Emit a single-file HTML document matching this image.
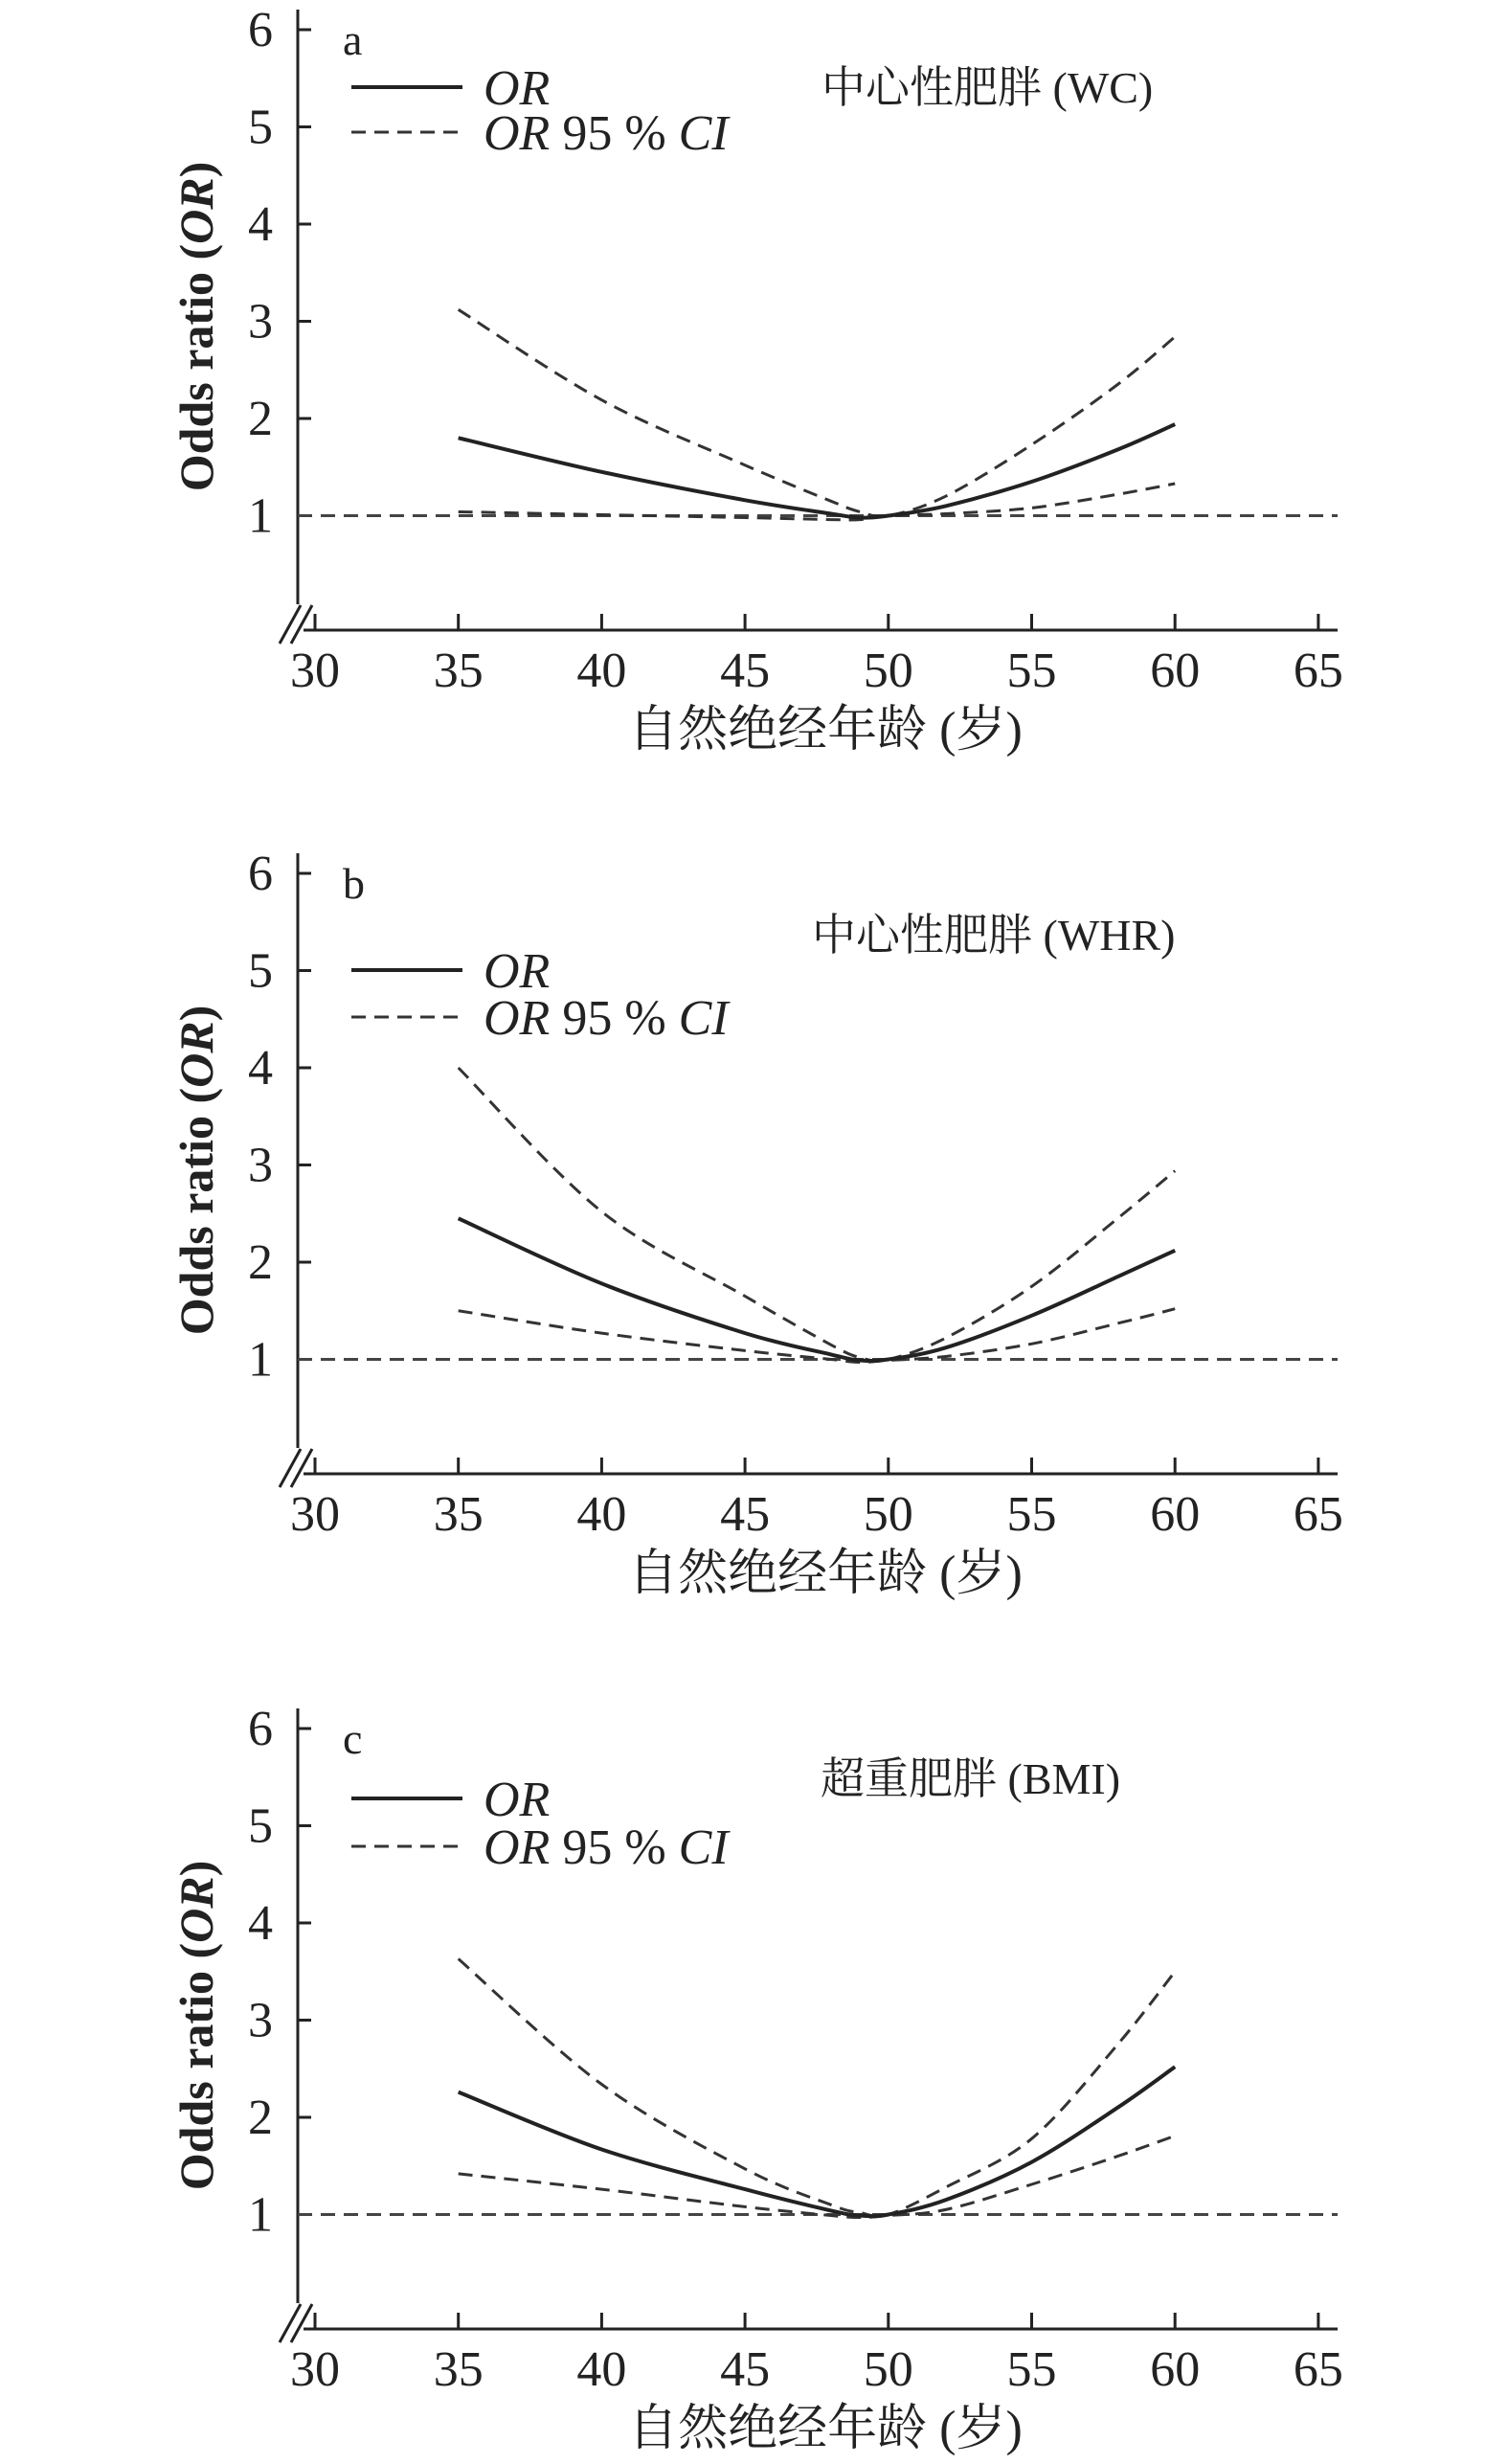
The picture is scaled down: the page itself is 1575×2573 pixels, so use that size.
<!DOCTYPE html>
<html><head><meta charset="utf-8"><style>
html,body{margin:0;padding:0;background:#fff;}
svg{display:block;}
text{font-family:"Liberation Serif","Noto Serif CJK SC","Noto Sans CJK SC",serif;fill:#222;}
</style></head><body>
<svg id="chart" xmlns="http://www.w3.org/2000/svg" width="1575" height="2573" viewBox="0 0 1575 2573"></svg>
<script>
const years = [35,40,45,48,49,50,52,55,58,60];
const xTicks = [30,35,40,45,50,55,60,65];
const yTicks = [1,2,3,4,5,6];
const orA = [1.80,1.45,1.16,1.02,0.98,1.00,1.10,1.35,1.68,1.94];
const upA = [3.12,2.19,1.52,1.15,1.04,1.00,1.20,1.73,2.35,2.84];
const loA = [1.04,1.01,0.98,0.96,0.96,1.00,1.02,1.08,1.22,1.33];
const orB = [2.45,1.78,1.27,1.05,0.99,1.00,1.12,1.45,1.85,2.12];
const upB = [4.00,2.52,1.65,1.15,1.02,1.00,1.22,1.75,2.45,2.94];
const loB = [1.50,1.27,1.09,1.00,0.97,0.99,1.03,1.16,1.37,1.52];
const orC = [2.26,1.67,1.26,1.04,0.99,1.00,1.15,1.54,2.10,2.52];
const upC = [3.63,2.34,1.47,1.10,1.02,1.00,1.28,1.78,2.75,3.50];
const loC = [1.42,1.26,1.08,0.99,0.97,0.99,1.05,1.31,1.60,1.81];
const refValue = 1;

const NS = "http://www.w3.org/2000/svg";
const svg = document.getElementById('chart');
function mk(tag, attrs, parent){
  const e = document.createElementNS(NS, tag);
  for (const k in attrs) e.setAttribute(k, attrs[k]);
  (parent||svg).appendChild(e);
  return e;
}
function spline(pts){
  let d = "M" + pts[0][0] + "," + pts[0][1];
  for (let i=0;i<pts.length-1;i++){
    const p0 = pts[Math.max(0,i-1)], p1 = pts[i], p2 = pts[i+1], p3 = pts[Math.min(pts.length-1,i+2)];
    const c1x = p1[0] + (p2[0]-p0[0])/6, c1y = p1[1] + (p2[1]-p0[1])/6;
    const c2x = p2[0] - (p3[0]-p1[0])/6, c2y = p2[1] - (p3[1]-p1[1])/6;
    d += " C" + c1x.toFixed(1) + "," + c1y.toFixed(1) + " " + c2x.toFixed(1) + "," + c2y.toFixed(1) + " " + p2[0].toFixed(1) + "," + p2[1].toFixed(1);
  }
  return d;
}

const panels = [
  {id:'a', T:31, title:'中心性肥胖 (WC)', tx:858, tOff:60, orOff:60, ciOff:107, or:orA, up:upA, lo:loA},
  {id:'b', T:912, title:'中心性肥胖 (WHR)', tx:848, tOff:64, orOff:101, ciOff:150, or:orB, up:upB, lo:loB},
  {id:'c', T:1805, title:'超重肥胖 (BMI)', tx:857, tOff:52, orOff:73, ciOff:123, or:orC, up:upC, lo:loC}
];

panels.forEach(p => {
  const T = p.T;
  const g = mk('g', {});
  
  
  const X = v => 329 + (v-30)*29.94;
  const Y = v => T + (6-v)*101.5;
  const axY = T + 627;

  const ya = mk('line', {x1:311, y1:T-21, x2:311, y2:T+600, stroke:'#222', 'stroke-width':3}, g);
  
  
  const xa = mk('line', {x1:317, y1:axY, x2:1397, y2:axY, stroke:'#222', 'stroke-width':3}, g);
  
  
  const br1 = mk('line', {x1:292, y1:axY+14, x2:314, y2:axY-26, stroke:'#222', 'stroke-width':3}, g);
  
  
  const br2 = mk('line', {x1:304, y1:axY+14, x2:326, y2:axY-26, stroke:'#222', 'stroke-width':3}, g);
  
  

  yTicks.forEach(t => {
    const tk = mk('line', {x1:311, y1:Y(t), x2:325, y2:Y(t), stroke:'#222', 'stroke-width':3}, g);
    
    
    const lb = mk('text', {x:285, y:Y(t)+17, 'text-anchor':'end', 'font-size':52}, g);
    lb.textContent = t;
    
    
  });
  xTicks.forEach(t => {
    const tk = mk('line', {x1:X(t), y1:axY, x2:X(t), y2:axY-17, stroke:'#222', 'stroke-width':3}, g);
    
    
    const lb = mk('text', {x:X(t), y:axY+59, 'text-anchor':'middle', 'font-size':52}, g);
    lb.textContent = t;
    
    
  });

  const xt = mk('text', {x:862, y:T+748, 'text-anchor':'middle', 'font-size':52}, g);
  xt.textContent = '自然绝经年龄 (岁)';
  
  
  const yt = mk('text', {x:0, y:0, 'text-anchor':'middle', 'font-size':50, 'font-weight':'bold', transform:'translate(222,' + (T+310) + ') rotate(-90)'}, g);
  yt.innerHTML = 'Odds ratio (<tspan font-style="italic">OR</tspan>)';
  
  

  const pl = mk('text', {x:358, y:T+26, 'font-size':46}, g);
  pl.textContent = p.id;
  
  

  const ti = mk('text', {x:p.tx, y:T+p.tOff+16, 'font-size':46}, g);
  ti.textContent = p.title;
  
  

  const l1 = mk('line', {x1:367, y1:T+p.orOff, x2:483, y2:T+p.orOff, stroke:'#222', 'stroke-width':4}, g);
  
  
  const t1 = mk('text', {x:505, y:T+p.orOff+18, 'font-size':52, 'font-style':'italic'}, g);
  t1.textContent = 'OR';
  
  
  const l2 = mk('line', {x1:367, y1:T+p.ciOff, x2:483, y2:T+p.ciOff, stroke:'#333', 'stroke-width':3, 'stroke-dasharray':'15 9'}, g);
  
  
  const t2 = mk('text', {x:505, y:T+p.ciOff+18, 'font-size':52}, g);
  t2.innerHTML = '<tspan font-style="italic">OR</tspan> 95 % <tspan font-style="italic">CI</tspan>';
  
  

  const ref = mk('line', {x1:311, y1:Y(refValue), x2:1397, y2:Y(refValue), stroke:'#444', 'stroke-width':3, 'stroke-dasharray':'15 9'}, g);
  
  

  const up = mk('path', {d:spline(years.map((y,i)=>[X(y),Y(p.up[i])])), fill:'none', stroke:'#333', 'stroke-width':3, 'stroke-dasharray':'15 9'}, g);
  
  
  const lo = mk('path', {d:spline(years.map((y,i)=>[X(y),Y(p.lo[i])])), fill:'none', stroke:'#333', 'stroke-width':3, 'stroke-dasharray':'15 9'}, g);
  
  
  const orl = mk('path', {d:spline(years.map((y,i)=>[X(y),Y(p.or[i])])), fill:'none', stroke:'#222', 'stroke-width':4}, g);
  
  
});
</script>
</body></html>
